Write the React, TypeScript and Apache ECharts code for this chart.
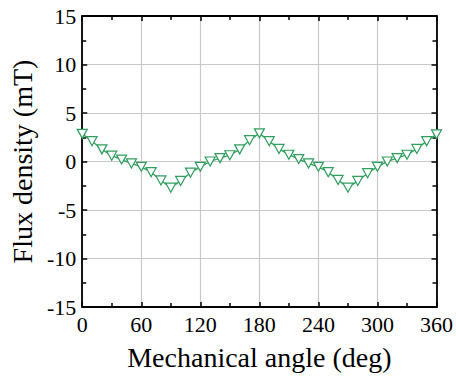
import React, { useEffect, useRef } from "react";
import * as echarts from "echarts";

const angles: number[] = [
  0, 10, 20, 30, 40, 50, 60, 70, 80, 90, 100, 110, 120, 130, 140, 150, 160, 170, 180,
  190, 200, 210, 220, 230, 240, 250, 260, 270, 280, 290, 300, 310, 320, 330, 340, 350, 360,
];
const fluxDensity: number[] = [
  2.85, 2.1, 1.25, 0.6, 0.2, -0.2, -0.55, -1.1, -1.95, -2.7, -2.0, -1.15, -0.55, 0.0, 0.35, 0.65, 1.25, 2.2, 2.9,
  2.1, 1.3, 0.7, 0.25, -0.2, -0.55, -1.1, -1.9, -2.7, -2.0, -1.2, -0.55, 0.0, 0.35, 0.7, 1.3, 2.1, 2.8,
];

const xTitle = "Mechanical angle (deg)";
const yTitle = "Flux density (mT)";

const FONT = "'Liberation Serif', 'Times New Roman', serif";
const GREEN = "#2f9e5e";

export default function App() {
  const ref = useRef<HTMLDivElement>(null);
  useEffect(() => {
    if (!ref.current) return;
    const chart = echarts.init(ref.current, undefined, { renderer: "svg" });
    const axisLine = { show: true, onZero: false, lineStyle: { color: "#000", width: 1.8 } };
    const tick = { show: true, inside: true, length: 5, lineStyle: { color: "#000", width: 1.5 } };
    const minor = { show: true, splitNumber: 2, length: 4, lineStyle: { color: "#000", width: 1.5 } };
    chart.setOption({
      animation: false,
      backgroundColor: "#fff",
      grid: { left: 77, right: 17, top: 16, bottom: 68, containLabel: false },
      xAxis: [
        {
          type: "value",
          min: 0,
          max: 360,
          interval: 60,
          position: "bottom",
          name: xTitle,
          nameLocation: "middle",
          nameGap: 36,
          nameTextStyle: { fontFamily: FONT, fontSize: 28, color: "#000" },
          axisLine,
          axisTick: tick,
          minorTick: minor,
          axisLabel: { fontFamily: FONT, fontSize: 22, color: "#000", margin: 6 },
          splitLine: { show: true, lineStyle: { color: "#c8c8c8", width: 1.2 } },
        },
        {
          type: "value",
          min: 0,
          max: 360,
          interval: 60,
          position: "top",
          axisLine,
          axisTick: tick,
          minorTick: minor,
          axisLabel: { show: false },
          splitLine: { show: false },
        },
      ],
      yAxis: [
        {
          type: "value",
          min: -15,
          max: 15,
          interval: 5,
          position: "left",
          name: yTitle,
          nameLocation: "middle",
          nameGap: 43,
          nameTextStyle: { fontFamily: FONT, fontSize: 28, color: "#000" },
          axisLine,
          axisTick: tick,
          minorTick: minor,
          axisLabel: { fontFamily: FONT, fontSize: 22, color: "#000", margin: 6 },
          splitLine: { show: true, lineStyle: { color: "#c8c8c8", width: 1.2 } },
        },
        {
          type: "value",
          min: -15,
          max: 15,
          interval: 5,
          position: "right",
          axisLine,
          axisTick: tick,
          minorTick: minor,
          axisLabel: { show: false },
          splitLine: { show: false },
        },
      ],
      series: [
        {
          type: "line",
          xAxisIndex: 0,
          yAxisIndex: 0,
          data: angles.map((a, i) => [a, fluxDensity[i]]),
          symbol: "triangle",
          symbolRotate: 180,
          symbolSize: [10, 9],
          showAllSymbol: true,
          lineStyle: { color: GREEN, width: 1.3 },
          itemStyle: { color: "#ffffff", borderColor: GREEN, borderWidth: 1.2 },
        },
      ],
    });
    return () => chart.dispose();
  }, []);
  return <div ref={ref} style={{ width: 456, height: 376, position: "absolute", left: 0, top: 0 }} />;
}
